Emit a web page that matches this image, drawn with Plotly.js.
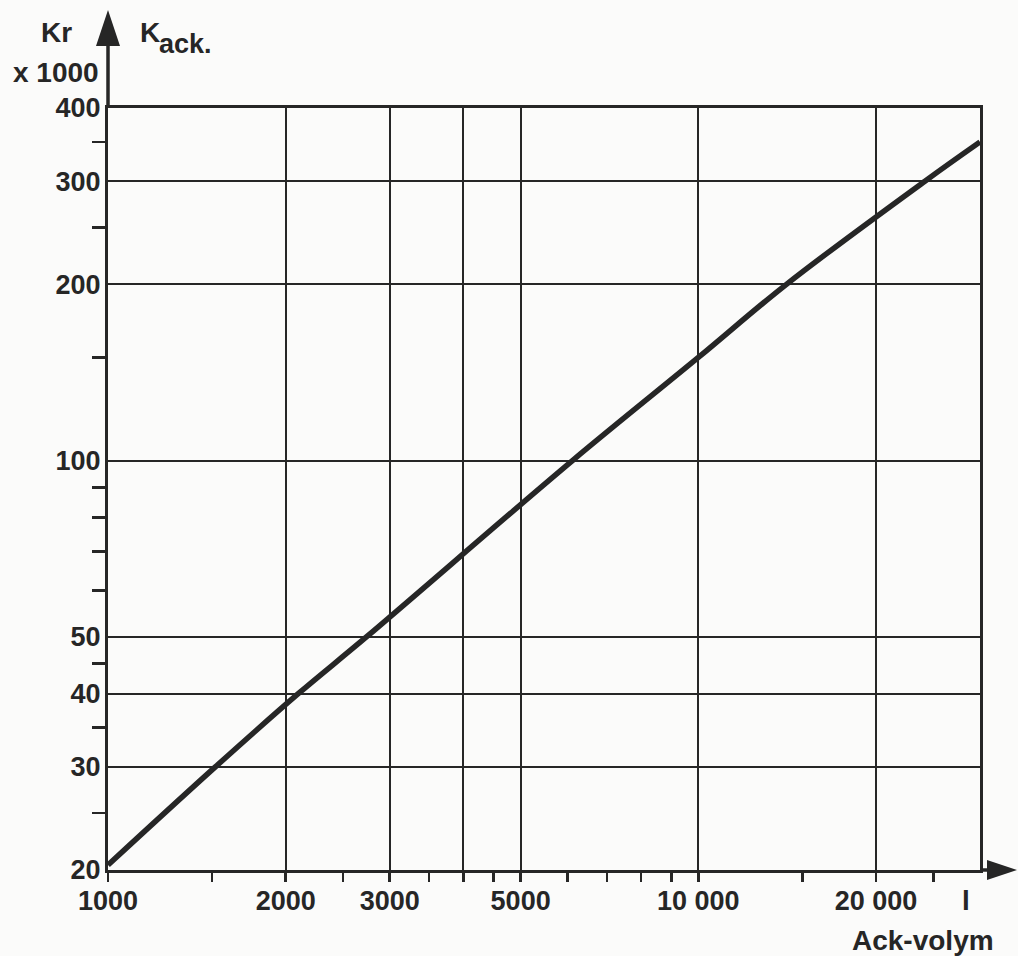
<!DOCTYPE html>
<html>
<head>
<meta charset="utf-8">
<script src="https://cdn.plot.ly/plotly-3.0.1.min.js"></script>
<style>html,body{margin:0;padding:0;background:#fbfbfa;}</style>
</head>
<body>
<div id="chart" style="width:1018px;height:956px;"></div>
<script>
// ---- data ----
const volume = [1000, 1520, 2100, 2740, 6120, 10000, 14100, 24200, 30000];   // Ack-volym (l)
const cost   = [20.4, 30, 40, 50, 100, 150, 200, 300, 350];                  // Kr x 1000

const xMajorVals  = [1000, 2000, 3000, 4000, 5000, 10000, 20000];
const xMajorText  = ['1000', '2000', '3000', ' ', '5000', '10 000', '20 000'];
const xMinorVals  = [1500, 2500, 3500, 4500, 6000, 7000, 8000, 9000, 15000, 25000];
const yMajorVals  = [20, 30, 40, 50, 100, 200, 300, 400];
const yMajorText  = ['20', '30', '40', '50', '100', '200', '300', '400'];
const yMinorVals  = [25, 35, 45, 60, 70, 80, 90, 150, 250, 350];
const xRange = [1000, 30000];
const yRange = [20, 400];

// ---- layout geometry ----
const W = 1018, H = 956;
const M = {l: 108, r: 38, t: 108, b: 86};
const PW = W - M.l - M.r, PH = H - M.t - M.b;
const px = x => (x - M.l) / PW;      // pixel -> paper x
const py = y => (H - M.b - y) / PH;  // pixel -> paper y
const ink = '#262626';
const font = {family: 'Liberation Sans, Arial, sans-serif', size: 28, color: ink, weight: 700};
const tickFont = Object.assign({}, font, {size: 27});

const trace = {
  x: volume, y: cost, type: 'scatter', mode: 'lines',
  line: {color: ink, width: 5.5, shape: 'spline', smoothing: 1}, cliponaxis: false, hoverinfo: 'skip'
};

function tri(pts) {
  return 'M' + pts.map(p => px(p[0]) + ',' + py(p[1])).join(' L') + ' Z';
}

const layout = {
  width: W, height: H,
  margin: M,
  paper_bgcolor: '#fbfbfa', plot_bgcolor: '#fbfbfa',
  showlegend: false,
  font: font,
  xaxis: {
    type: 'log', range: xRange.map(Math.log10),
    tickmode: 'array', tickvals: xMajorVals, ticktext: xMajorText,
    ticks: 'outside', ticklen: 9, tickwidth: 2.5, tickcolor: ink,
    ticklabelstandoff: -4,
    showgrid: true, gridcolor: ink, gridwidth: 2,
    showline: true, linecolor: ink, linewidth: 3, mirror: true,
    zeroline: false, tickfont: tickFont,
    minor: {tickmode: 'array', tickvals: xMinorVals, ticks: 'outside', ticklen: 9, tickwidth: 2.5, tickcolor: ink, showgrid: false}
  },
  yaxis: {
    type: 'log', range: yRange.map(Math.log10),
    tickmode: 'array', tickvals: yMajorVals, ticktext: yMajorText,
    ticks: 'outside', ticklen: 2, tickwidth: 1, tickcolor: 'rgba(0,0,0,0)',
    ticklabelstandoff: -3,
    showgrid: true, gridcolor: ink, gridwidth: 2,
    showline: true, linecolor: ink, linewidth: 3, mirror: true,
    zeroline: false, tickfont: tickFont,
    minor: {tickmode: 'array', tickvals: yMinorVals, ticks: 'outside', ticklen: 13, tickwidth: 2.5, tickcolor: ink, showgrid: false}
  },
  shapes: [
    // y axis extension + arrow
    {type: 'line', xref: 'paper', yref: 'paper', x0: 0, x1: 0, y0: 1, y1: py(40), line: {color: ink, width: 3.5}},
    {type: 'path', xref: 'paper', yref: 'paper', path: tri([[M.l, 10], [M.l - 12, 46], [M.l + 12, 46]]), fillcolor: ink, line: {width: 0}},
    // x axis extension + arrow
    {type: 'line', xref: 'paper', yref: 'paper', x0: 1, x1: px(992), y0: 0, y1: 0, line: {color: ink, width: 3.5}},
    {type: 'path', xref: 'paper', yref: 'paper', path: tri([[1017, H - M.b], [987, H - M.b - 10], [987, H - M.b + 10]]), fillcolor: ink, line: {width: 0}}
  ],
  annotations: [
    {xref: 'paper', yref: 'paper', x: px(74), y: py(32), xanchor: 'right', yanchor: 'middle', text: 'Kr', showarrow: false, font: font},
    {xref: 'paper', yref: 'paper', x: px(101), y: py(72), xanchor: 'right', yanchor: 'middle', text: 'x 1000', showarrow: false, font: font},
    {xref: 'paper', yref: 'paper', x: px(138), y: py(32), xanchor: 'left', yanchor: 'middle', text: 'K', showarrow: false, font: font},
    {xref: 'paper', yref: 'paper', x: px(157), y: py(44), xanchor: 'left', yanchor: 'middle', text: 'ack.', showarrow: false, font: Object.assign({}, font, {size: 27})},
    {xref: 'paper', yref: 'paper', x: px(966), y: py(900), xanchor: 'center', yanchor: 'middle', text: 'l', showarrow: false, font: font},
    {xref: 'paper', yref: 'paper', x: px(996), y: py(940), xanchor: 'right', yanchor: 'middle', text: 'Ack-volym', showarrow: false, font: font}
  ]
};

Plotly.newPlot('chart', [trace], layout, {staticPlot: true, displayModeBar: false});
</script>
</body>
</html>
